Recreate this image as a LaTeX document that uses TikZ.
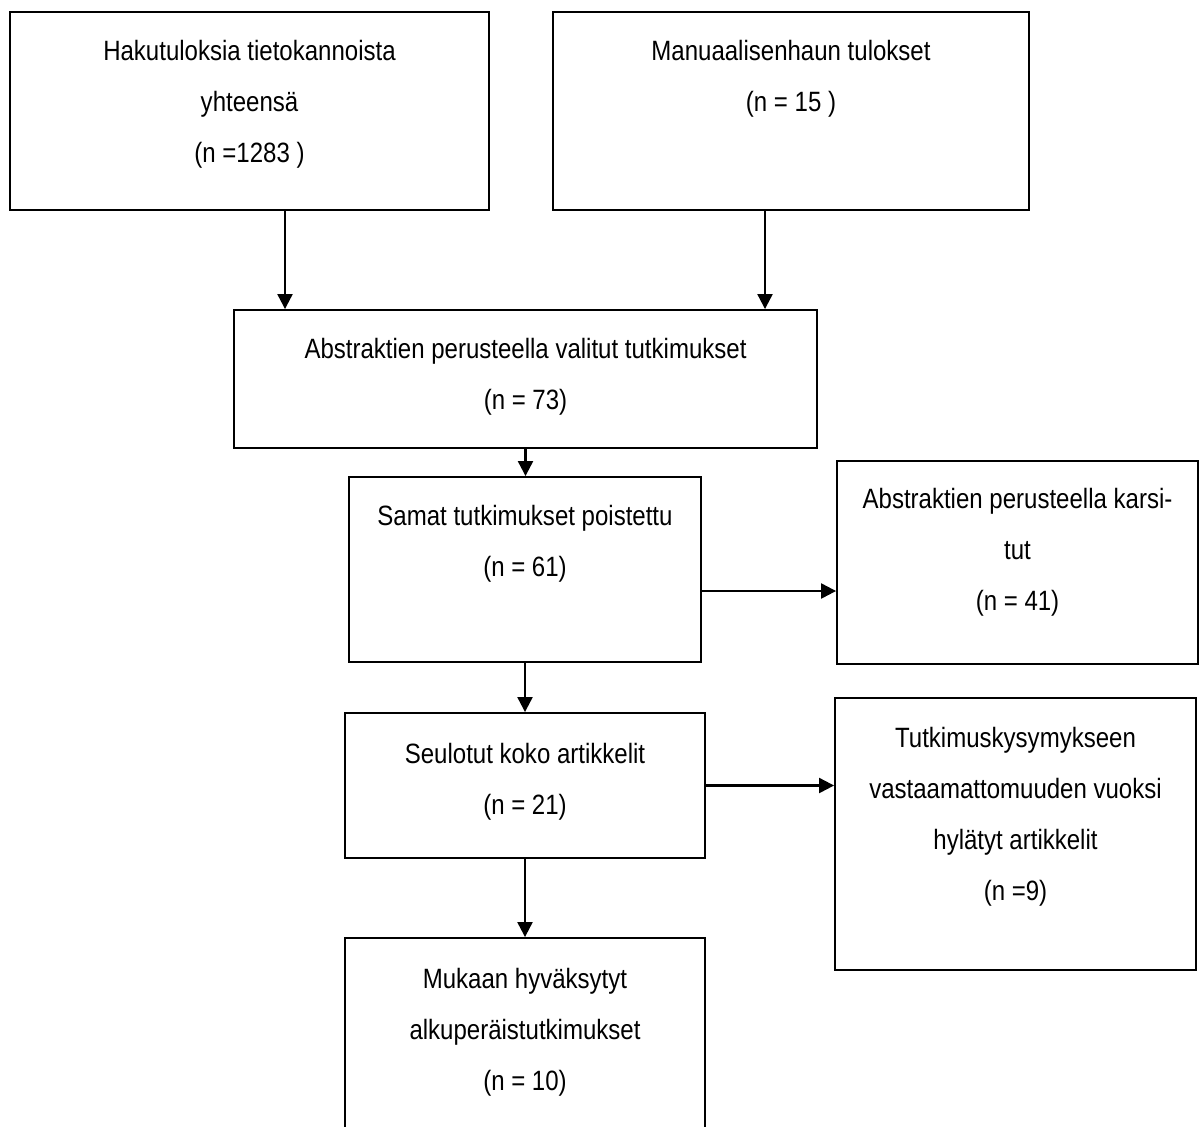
\documentclass[tikz,border=0pt]{standalone}
\usepackage{fontspec}
\setmainfont[FakeStretch=0.86]{Liberation Sans}
\usetikzlibrary{arrows.meta,calc}
\tikzset{
  box/.style={draw, line width=1.1pt, inner sep=0pt},
  txt/.style={anchor=north, align=center, inner sep=0pt, font=\fontsize{15.9pt}{29pt}\selectfont},
  arr/.style={line width=1.25pt, -{Triangle[length=0.3cm,width=0.3cm]}}
}
\begin{document}
\begin{tikzpicture}[x=0.02cm, y=-0.02cm]
  \useasboundingbox (0,0) rectangle (1202,1126);
  \clip (0,0) rectangle (1202,1126);
  % boxes
  \node[box, minimum width=9.58cm, minimum height=3.96cm] (hak) at (249.5,111) {};
  \node[box, minimum width=9.52cm, minimum height=3.96cm] (man) at (791,111) {};
  \node[box, minimum width=11.66cm, minimum height=2.76cm] (abs) at (525.5,379) {};
  \node[box, minimum width=7.04cm, minimum height=3.70cm] (sam) at (525,569.5) {};
  \node[box, minimum width=7.22cm, minimum height=4.06cm] (kar) at (1017.5,562.5) {};
  \node[box, minimum width=7.20cm, minimum height=2.90cm] (seu) at (525,785.5) {};
  \node[box, minimum width=7.22cm, minimum height=5.44cm] (tut) at (1015.5,834) {};
  \node[box, minimum width=7.20cm, minimum height=4.24cm] (muk) at (525,1044) {};
  % texts
  \node[txt] (hakt) at (249.5,40) {Hakutuloksia tietokannoista\\yhteensä\\(n =1283 )};
  \node[txt] (mant) at (791,40) {Manuaalisenhaun tulokset\\(n = 15 )};
  \node[txt] (abst) at (525.5,338) {Abstraktien perusteella valitut tutkimukset\\(n = 73)};
  \node[txt] (samt) at (525,505) {Samat tutkimukset poistettu\\(n = 61)};
  \node[txt] (kart) at (1017.5,488) {Abstraktien perusteella karsi-\\tut\\(n = 41)};
  \node[txt] (seut) at (525,743) {Seulotut koko artikkelit\\(n = 21)};
  \node[txt] (tutt) at (1015.5,727) {Tutkimuskysymykseen\\vastaamattomuuden vuoksi\\hylätyt artikkelit\\(n =9)};
  \node[txt] (mukt) at (525,968) {Mukaan hyväksytyt\\alkuperäistutkimukset\\(n = 10)};
  % arrows
  \coordinate (k1) at ($(hak.south)+(35.5,0)$);
  \coordinate (k2) at ($(man.south)+(-26,0)$);
  \coordinate (k3) at ($(sam.east)+(0,21.5)$);
  \draw[arr] (k1) -- (k1 |- abs.north);
  \draw[arr] (k2) -- (k2 |- abs.north);
  \draw[arr] (abs.south) -- (abs.south |- sam.north);
  \draw[arr] (k3) -- (k3 -| kar.west);
  \draw[arr] (sam.south) -- (sam.south |- seu.north);
  \draw[arr] (seu.east) -- (seu.east -| tut.west);
  \draw[arr] (seu.south) -- (seu.south |- muk.north);
\end{tikzpicture}
\end{document}
